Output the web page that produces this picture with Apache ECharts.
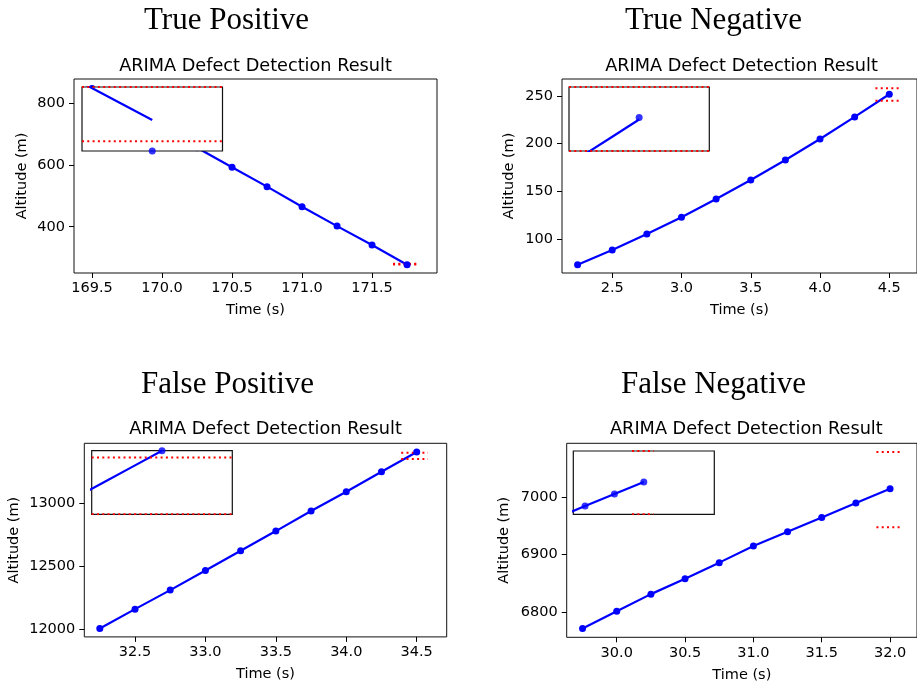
<!DOCTYPE html>
<html>
<head>
<meta charset="utf-8">
<script src="https://cdn.jsdelivr.net/npm/echarts@6/dist/echarts.min.js"></script>
<style>
  html, body { margin: 0; padding: 0; background: #fff; }
  #chart { width: 917px; height: 686px; }
</style>
</head>
<body>
<div id="chart"></div>
<script>
// ---- data ----
var caseTitles = ['True Positive', 'True Negative', 'False Positive', 'False Negative'];
var subTitle = 'ARIMA Defect Detection Result';

// True Positive
var tpTime = [169.5, 169.75, 170.0, 170.25, 170.5, 170.75, 171.0, 171.25, 171.5, 171.75];
var tpAltitude = [848, 784, 720, 656, 593, 530, 465, 402, 341, 276.7];
var tpUpper = 280.0, tpLower = 277.2;
var tpBandTime = [171.65, 171.83];
var tpFcTime = [171.0, 171.25, 171.5, 171.75];
var tpFcAltitude = [280.7, 279.9, 279.1, 278.3];
var tpInsetBandTime = [171.15, 172.35];
var tpXTicks = [169.5, 170.0, 170.5, 171.0, 171.5];
var tpYTicks = [400, 600, 800];

// True Negative
var tnTime = [2.25, 2.5, 2.75, 3.0, 3.25, 3.5, 3.75, 4.0, 4.25, 4.5];
var tnAltitude = [73, 88.5, 105.2, 122.7, 141.9, 161.9, 182.9, 204.9, 228, 251.8];
var tnUpper = 258, tnLower = 245;
var tnBandTime = [4.4, 4.585];
var tnFcTime = [3.75, 4.0, 4.25, 4.5];
var tnFcAltitude = [240.0, 243.8, 247.6, 251.4];
var tnInsetBandTime = [3.9, 5.1];
var tnXTicks = [2.5, 3.0, 3.5, 4.0, 4.5];
var tnYTicks = [100, 150, 200, 250];

// False Positive
var fpTime = [32.25, 32.5, 32.75, 33.0, 33.25, 33.5, 33.75, 34.0, 34.25, 34.5];
var fpAltitude = [12005, 12159, 12310, 12466, 12622, 12778, 12937, 13090, 13249, 13405];
var fpUpper = 13399, fpLower = 13349;
var fpBandTime = [34.39, 34.58];
var fpFcTime = [33.75, 34.0, 34.25, 34.5];
var fpFcAltitude = [13363, 13377, 13391, 13405];
var fpInsetBandTime = [33.9, 35.1];
var fpXTicks = [32.5, 33.0, 33.5, 34.0, 34.5];
var fpYTicks = [12000, 12500, 13000];

// False Negative
var fnTime = [29.75, 30.0, 30.25, 30.5, 30.75, 31.0, 31.25, 31.5, 31.75, 32.0];
var fnAltitude = [6771, 6801, 6831, 6858, 6886, 6915, 6940, 6965, 6990, 7015];
var fnUpper = 7079, fnLower = 6948;
var fnBandTime = [31.9, 32.085];
var fnFcTime = [31.0, 31.25, 31.5, 31.75, 32.0];
var fnFcAltitude = [6915, 6940, 6965, 6990, 7015];
var fnInsetBandTime = [31.9, 32.085];
var fnXTicks = [30.0, 30.5, 31.0, 31.5, 32.0];
var fnYTicks = [6800, 6900, 7000];

// ---- layout of the four panels ----
var panels = [
  { time: tpTime, alt: tpAltitude, up: tpUpper, low: tpLower, band: tpBandTime,
    fcT: tpFcTime, fcA: tpFcAltitude, insetBand: tpInsetBandTime, xt: tpXTicks, yt: tpYTicks,
    grid: { left: 74, top: 79, width: 363, height: 194 }, x: [169.371, 171.964], y: [250, 879],
    inset: { left: 82, top: 87, width: 140.5, height: 64 }, ix: [171.15, 172.35], iy: [276.7, 280.0],
    titleX: 226.5, titleY: 20.5, subY: 66, nameGap: 44 },
  { time: tnTime, alt: tnAltitude, up: tnUpper, low: tnLower, band: tnBandTime,
    fcT: tnFcTime, fcA: tnFcAltitude, insetBand: tnInsetBandTime, xt: tnXTicks, yt: tnYTicks,
    grid: { left: 562, top: 79, width: 359, height: 194 }, x: [2.1375, 4.70], y: [64.3, 267.8],
    inset: { left: 569, top: 87, width: 140.3, height: 64 }, ix: [3.9, 5.1], iy: [245, 258],
    titleX: 713.5, titleY: 20.5, subY: 66, nameGap: 45 },
  { time: fpTime, alt: fpAltitude, up: fpUpper, low: fpLower, band: fpBandTime,
    fcT: fpFcTime, fcA: fpFcAltitude, insetBand: fpInsetBandTime, xt: fpXTicks, yt: fpYTicks,
    grid: { left: 84.3, top: 443.3, width: 362.4, height: 193.6 }, x: [32.14, 34.713], y: [11939, 13474],
    inset: { left: 91.7, top: 450.7, width: 140.6, height: 63.6 }, ix: [33.9, 35.1], iy: [13349, 13405],
    titleX: 227.5, titleY: 384.5, subY: 429.5, nameGap: 63 },
  { time: fnTime, alt: fnAltitude, up: fnUpper, low: fnLower, band: fnBandTime,
    fcT: fnFcTime, fcA: fnFcAltitude, insetBand: fnInsetBandTime, xt: fnXTicks, yt: fnYTicks,
    grid: { left: 566.7, top: 443.3, width: 359.3, height: 194 }, x: [29.634, 32.197], y: [6755.6, 7094.4],
    inset: { left: 573.3, top: 451, width: 141, height: 63.3 }, ix: [31.4, 32.6], iy: [6948, 7079],
    titleX: 713.5, titleY: 384.5, subY: 429.5, nameGap: 55 }
];

var BLUE = '#0000ff', RED = '#ff0000';
var FONT = 'DejaVu Sans';
var TICK_SIZE = 14.5;

function pairs(xs, ys) {
  return xs.map(function (x, i) { return [x, ys[i]]; });
}
function hline(xs, y) {
  return [[xs[0], y], [xs[1], y]];
}

var grids = [], xAxes = [], yAxes = [], series = [], graphics = [];

panels.forEach(function (p, k) {
  var mainIdx = grids.length;
  grids.push({
    left: p.grid.left, top: p.grid.top, width: p.grid.width, height: p.grid.height,
    show: true, borderColor: '#111', borderWidth: 1, backgroundColor: 'transparent', z: 0
  });
  xAxes.push({
    type: 'value', gridIndex: mainIdx, min: p.x[0], max: p.x[1],
    name: 'Time (s)', nameLocation: 'middle', nameGap: 30,
    nameTextStyle: { fontFamily: FONT, fontSize: TICK_SIZE, color: '#000' },
    axisLine: { show: false },
    axisTick: { show: true, length: 5, customValues: p.xt, lineStyle: { color: '#000', width: 1 } },
    axisLabel: { customValues: p.xt, margin: 8, fontFamily: FONT, fontSize: TICK_SIZE, color: '#000',
      formatter: function (v) { return v.toFixed(1); } },
    splitLine: { show: false }
  });
  yAxes.push({
    type: 'value', gridIndex: mainIdx, min: p.y[0], max: p.y[1],
    name: 'Altitude (m)', nameLocation: 'middle', nameGap: p.nameGap, nameRotate: 90,
    nameTextStyle: { fontFamily: FONT, fontSize: TICK_SIZE, color: '#000' },
    axisLine: { show: false },
    axisTick: { show: true, length: 5, customValues: p.yt, lineStyle: { color: '#000', width: 1 } },
    axisLabel: { customValues: p.yt, margin: 9, fontFamily: FONT, fontSize: TICK_SIZE, color: '#000',
      formatter: function (v) { return String(Math.round(v)); } },
    splitLine: { show: false }
  });

  // main: measured altitude
  series.push({
    type: 'line', xAxisIndex: mainIdx, yAxisIndex: mainIdx, z: 2,
    data: pairs(p.time, p.alt), symbol: 'circle', symbolSize: 7, showSymbol: true,
    itemStyle: { color: BLUE }, lineStyle: { color: BLUE, width: 2.2 }, animation: false, silent: true
  });
  // main: threshold band
  [p.up, p.low].forEach(function (v) {
    series.push({
      type: 'line', xAxisIndex: mainIdx, yAxisIndex: mainIdx, z: 2,
      data: hline(p.band, v), symbol: 'none',
      lineStyle: { color: RED, width: 2, type: [2, 3.3] }, animation: false, silent: true
    });
  });

  // inset zoom
  var insIdx = grids.length;
  grids.push({
    left: p.inset.left, top: p.inset.top, width: p.inset.width, height: p.inset.height,
    show: true, borderColor: '#111', borderWidth: 1.2, backgroundColor: '#fff', z: 3
  });
  xAxes.push({ type: 'value', gridIndex: insIdx, min: p.ix[0], max: p.ix[1], show: false });
  yAxes.push({ type: 'value', gridIndex: insIdx, min: p.iy[0], max: p.iy[1], show: false });
  series.push({
    type: 'line', xAxisIndex: insIdx, yAxisIndex: insIdx, z: 4,
    data: pairs(p.fcT, p.fcA), symbol: 'none',
    lineStyle: { color: BLUE, width: 2.2 }, animation: false, silent: true
  });
  series.push({
    type: 'scatter', xAxisIndex: insIdx, yAxisIndex: insIdx, z: 4,
    data: pairs(p.time, p.alt), symbol: 'circle', symbolSize: 7,
    itemStyle: { color: BLUE }, animation: false, silent: true
  });
  [p.up, p.low].forEach(function (v) {
    series.push({
      type: 'line', xAxisIndex: insIdx, yAxisIndex: insIdx, z: 4,
      data: hline(p.insetBand, v), symbol: 'none',
      lineStyle: { color: RED, width: 2, type: [2, 3.3] }, animation: false, silent: true
    });
  });

  // titles
  graphics.push({
    type: 'text', x: p.titleX, y: p.titleY, silent: true,
    style: { text: caseTitles[k], font: '31px "Liberation Serif", "Times New Roman", serif',
      fill: '#000', align: 'center', verticalAlign: 'middle' }
  });
  graphics.push({
    type: 'text', x: p.grid.left + p.grid.width / 2, y: p.subY, silent: true,
    style: { text: subTitle, font: '17.7px "DejaVu Sans"', fill: '#000', align: 'center', verticalAlign: 'middle' }
  });
});

var chart = echarts.init(document.getElementById('chart'), null, { renderer: 'canvas' });
chart.setOption({
  animation: false,
  backgroundColor: '#fff',
  grid: grids,
  xAxis: xAxes,
  yAxis: yAxes,
  series: series,
  graphic: graphics
});
</script>
</body>
</html>
